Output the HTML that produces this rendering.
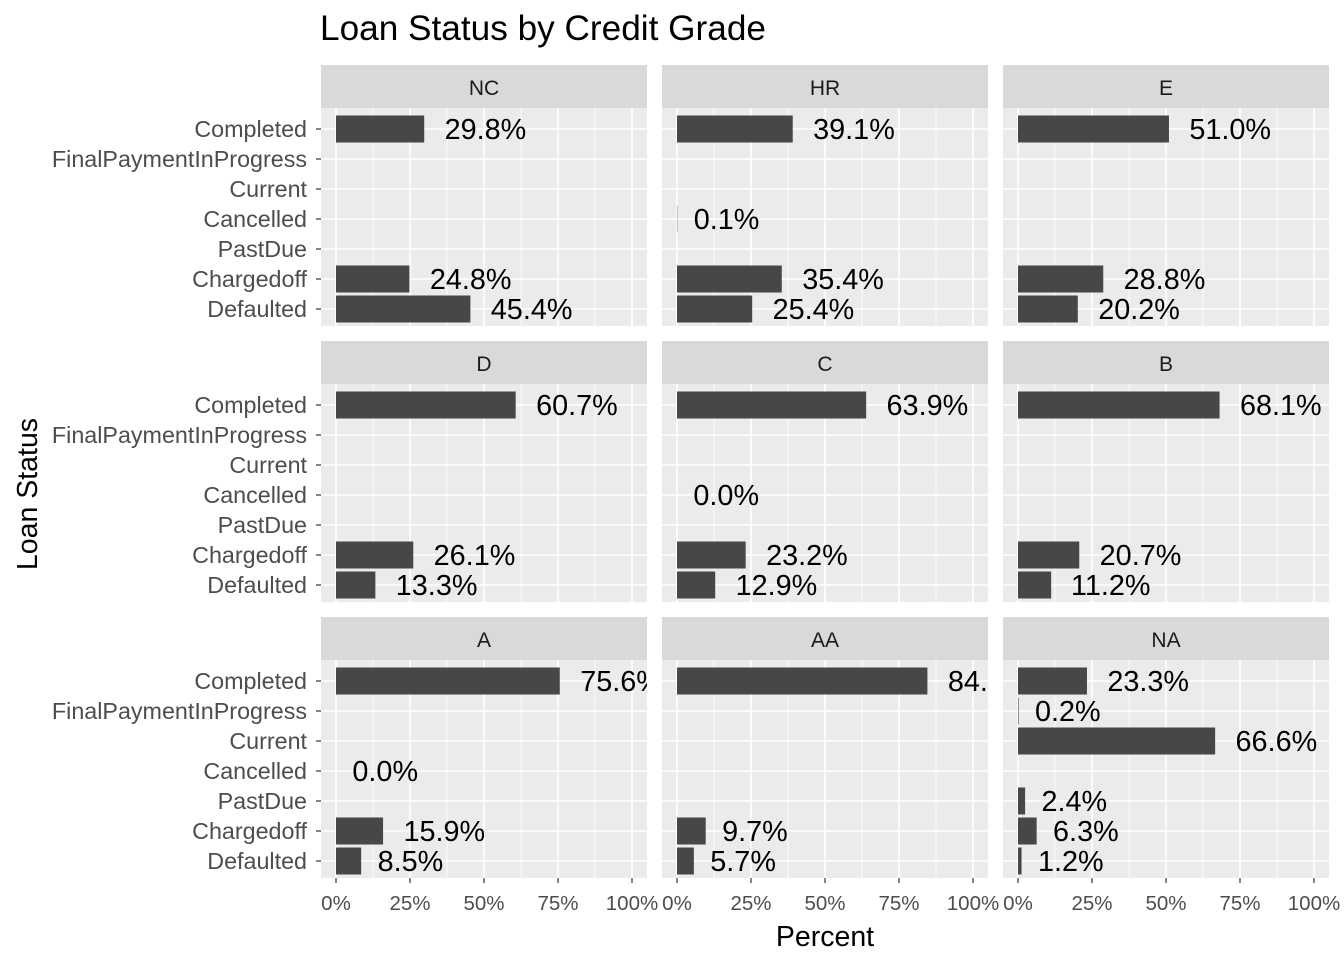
<!DOCTYPE html>
<html><head><meta charset="utf-8"><style>
html,body{margin:0;padding:0;background:#fff;}
svg{display:block;font-family:"Liberation Sans",Arial,sans-serif;}
</style></head><body>
<svg id="chart" width="1344" height="960" xmlns="http://www.w3.org/2000/svg">
<text x="320" y="40" font-size="35.2" fill="#000">Loan Status by Credit Grade</text>
<text x="825" y="946" font-size="28.5" text-anchor="middle" fill="#000">Percent</text>
<text transform="translate(37,494) rotate(-90)" font-size="28.5" text-anchor="middle" fill="#000">Loan Status</text>
<g id="panels"></g>
</svg>
<script>
const grades = ["NC","HR","E","D","C","B","A","AA","NA"];
const statuses = ["Completed","FinalPaymentInProgress","Current","Cancelled","PastDue","Chargedoff","Defaulted"];
const valNC = [29.8,null,null,null,null,24.8,45.4];
const valHR = [39.1,null,null,0.1,null,35.4,25.4];
const valE  = [51.0,null,null,null,null,28.8,20.2];
const valD  = [60.7,null,null,null,null,26.1,13.3];
const valC  = [63.9,null,null,0.0,null,23.2,12.9];
const valB  = [68.1,null,null,null,null,20.7,11.2];
const valA  = [75.6,null,null,0.0,null,15.9,8.5];
const valAA = [84.6,null,null,null,null,9.7,5.7];
const valNA = [23.3,0.2,66.6,null,2.4,6.3,1.2];
const xTicks = [0,25,50,75,100];
const xTickLabels = ["0%","25%","50%","75%","100%"];
const values = [valNC,valHR,valE,valD,valC,valB,valA,valAA,valNA];

const NS="http://www.w3.org/2000/svg";
const g=document.getElementById('panels');
function mk(tag,attrs,parent){const e=document.createElementNS(NS,tag);for(const k in attrs)e.setAttribute(k,attrs[k]);(parent||g).appendChild(e);return e;}
const colX=[321,662,1003], panelW=326;
const rowStrip=[65,341,617], stripH=43, panelH=218;
const defs=mk('defs',{});
grades.forEach((gr,i)=>{
  const c=i%3,r=Math.floor(i/3);
  const px=colX[c], sy=rowStrip[r], py=sy+stripH;
  const xs=v=>px+15+v*2.96;
  const ys=k=>py+21+k*30;
  const pg=mk('g',{});
  
  
  const cp=mk('clipPath',{id:'cp'+i},defs);
  mk('rect',{x:px,y:py,width:panelW,height:panelH},cp);
  const strip=mk('rect',{x:px,y:sy,width:panelW,height:stripH,fill:'#D9D9D9'},pg);
  
  
  const st=mk('text',{x:px+panelW/2,y:sy+30,'font-size':21,'text-anchor':'middle',fill:'#1A1A1A'},pg);
  st.textContent=gr;
  
  
  mk('rect',{x:px,y:py,width:panelW,height:panelH,fill:'#EBEBEB'},pg);
  for(let t=0;t<4;t++){const v=12.5+25*t;mk('line',{x1:xs(v),x2:xs(v),y1:py,y2:py+panelH,stroke:'#fff','stroke-width':0.8},pg);}
  xTicks.forEach(v=>mk('line',{x1:xs(v),x2:xs(v),y1:py,y2:py+panelH,stroke:'#fff','stroke-width':1.6},pg));
  statuses.forEach((s,k)=>mk('line',{x1:px,x2:px+panelW,y1:ys(k),y2:ys(k),stroke:'#fff','stroke-width':1.6},pg));
  const cg=mk('g',{'clip-path':'url(#cp'+i+')'},pg);
  values[i].forEach((v,k)=>{
    if(v===null)return;
    const b=mk('rect',{x:xs(0),y:ys(k)-13.5,width:Math.max(xs(v)-xs(0),0),height:27,fill:'#474747'},cg);
    
    
    const t=mk('text',{x:xs(v),y:ys(k)+10,'font-size':28.8,'text-anchor':'start',fill:'#000'},cg);
    t.textContent=v.toFixed(1)+'%';
    
    
    const w=t.getComputedTextLength();
    t.setAttribute('x',xs(v)+0.25*w);
  });
  if(c===0){statuses.forEach((s,k)=>{
    mk('line',{x1:px-5,x2:px,y1:ys(k),y2:ys(k),stroke:'#333','stroke-width':1.2});
    const t=mk('text',{x:px-14,y:ys(k)+8,'font-size':23.3,'text-anchor':'end',fill:'#4D4D4D'});
    t.textContent=s;
    
    
  });}
  if(r===2){xTicks.forEach((v,k)=>{
    mk('line',{x1:xs(v),x2:xs(v),y1:py+panelH,y2:py+panelH+5,stroke:'#333','stroke-width':1.2});
    const t=mk('text',{x:xs(v),y:py+panelH+32,'font-size':20.5,'text-anchor':'middle',fill:'#4D4D4D'});
    t.textContent=xTickLabels[k];
    
    
  });}
});
</script>
</body></html>
